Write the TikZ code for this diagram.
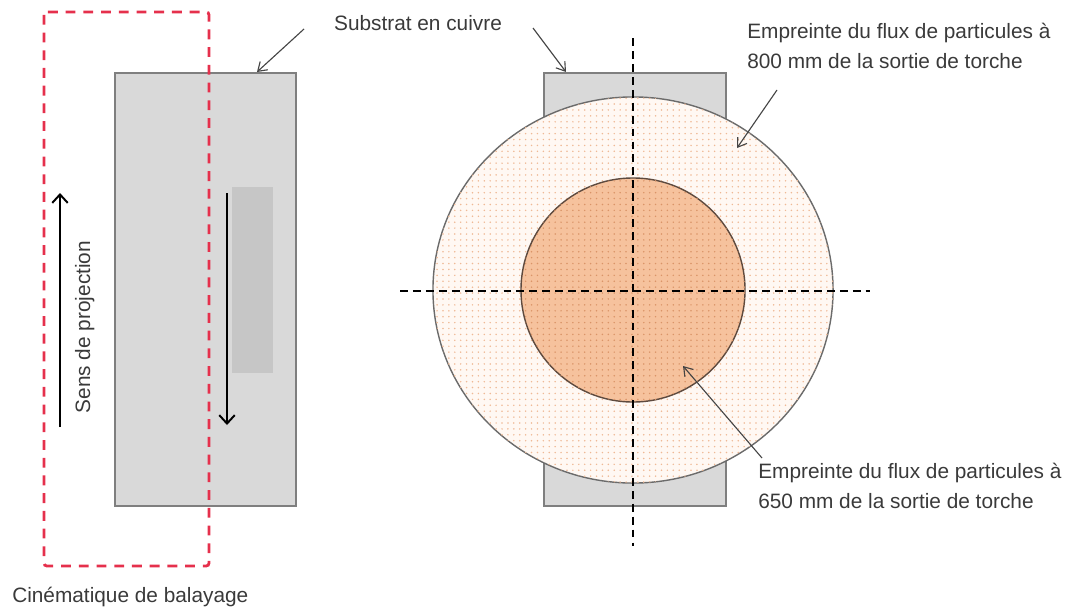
\documentclass[tikz,border=0pt]{standalone}
\usepackage{fontspec}
\setmainfont{Liberation Sans}
\usetikzlibrary{arrows.meta,patterns}
\definecolor{ink}{HTML}{3A3A3A}
\definecolor{leadgray}{HTML}{454545}
\definecolor{plategray}{HTML}{D9D9D9}
\definecolor{plateedge}{HTML}{7F7F7F}
\definecolor{spotgray}{HTML}{C6C6C6}
\definecolor{scanred}{HTML}{E5304C}
\definecolor{farfill}{HTML}{FFF8F3}
\definecolor{fardots}{HTML}{EFB995}
\definecolor{nearfill}{HTML}{F6C29D}
\definecolor{neardots}{HTML}{DA9468}
\definecolor{ringedge}{HTML}{6B6B6B}
\definecolor{coreedge}{HTML}{5E4A3E}
\pgfdeclarepatternformonly{sparsedots}{\pgfpoint{-1pt}{-1pt}}{\pgfpoint{1pt}{1pt}}{\pgfpoint{4.2pt}{4.2pt}}%
  {\pgfpathcircle{\pgfpointorigin}{0.6pt}\pgfusepath{fill}}
\tikzset{
  every node/.style={font=\fontsize{14.8}{20.8}\selectfont, text=ink, inner sep=0pt},
  lbl/.style={align=left},
  plate/.style={fill=plategray, draw=plateedge, line width=1.1pt},
  spot/.style={fill=spotgray},
  scanbox/.style={draw=scanred, line width=2pt, dash pattern=on 7pt off 5.6pt, rounded corners=2pt},
  axis/.style={draw=black, line width=1.4pt, dash pattern=on 5.6pt off 3.6pt},
  ring/.style={fill=farfill, draw=ringedge, line width=1pt,
    postaction={pattern=sparsedots, pattern color=fardots}},
  core/.style={fill=nearfill, draw=coreedge, line width=1pt,
    postaction={pattern=sparsedots, pattern color=neardots}},
  sweep/.style={-{Straight Barb[length=6pt, width=11pt, line width=1.4pt]}, draw=black, line width=1.4pt},
  lead/.style={-{Straight Barb[length=6pt, width=8pt]}, draw=leadgray, line width=0.8pt},
}
\begin{document}
\begin{tikzpicture}[x=0.025cm, y=-0.025cm]
  \useasboundingbox (0,0) rectangle (1069,612);

  % --- left view: substrate and scan --------------------------------------
  \draw[plate] (115,73) rectangle (296,506);
  \fill[spot] (232,187) rectangle (273,373);
  \coordinate (up0) at (60,427);   \coordinate (up1) at (60,193);
  \coordinate (dn0) at (227,193);  \coordinate (dn1) at (227,425);
  \draw[sweep] (up0) -- (up1);
  \draw[sweep] (dn0) -- (dn1);
  \node[rotate=90, anchor=base] (dir) at (90,327) {Sens de projection};
  \draw[scanbox] (44,12) rectangle (209,566);
  \node[anchor=base west] (scan) at (12,602) {Cinématique de balayage};

  % --- right view: footprints on the substrate ----------------------------
  \draw[plate] (544,73) rectangle (726,506);
  \coordinate (c) at (633,290);
  \path[ring] (c) ellipse [x radius=5cm, y radius=4.825cm];
  \path[core] (c) circle [radius=2.8cm];
  \coordinate (hl) at (400,291);  \coordinate (hr) at (870,291);
  \coordinate (vt) at (633,38);   \coordinate (vb) at (633,546);
  \draw[axis] (hl) -- (hr);
  \draw[axis] (vt) -- (vb);

  % labels and leaders
  \node[anchor=base] (subst) at (418,30) {Substrat en cuivre};
  \node[lbl, anchor=base west] (far) at (747,68) {Empreinte du flux de particules à\\800 mm de la sortie de torche};
  \node[lbl, anchor=base west] (near) at (758,508) {Empreinte du flux de particules à\\650 mm de la sortie de torche};

  \coordinate (sl0) at (304,29);  \coordinate (sl1) at (257,72);
  \coordinate (sr0) at (533,28);  \coordinate (sr1) at (566,72);
  \coordinate (f0) at (777,90);   \coordinate (f1) at (737,148);
  \coordinate (n0) at (762,458);  \coordinate (n1) at (683,366);
  \draw[lead] (sl0) -- (sl1);
  \draw[lead] (sr0) -- (sr1);
  \draw[lead] (f0) -- (f1);
  \draw[lead] (n0) -- (n1);
\end{tikzpicture}
\end{document}
